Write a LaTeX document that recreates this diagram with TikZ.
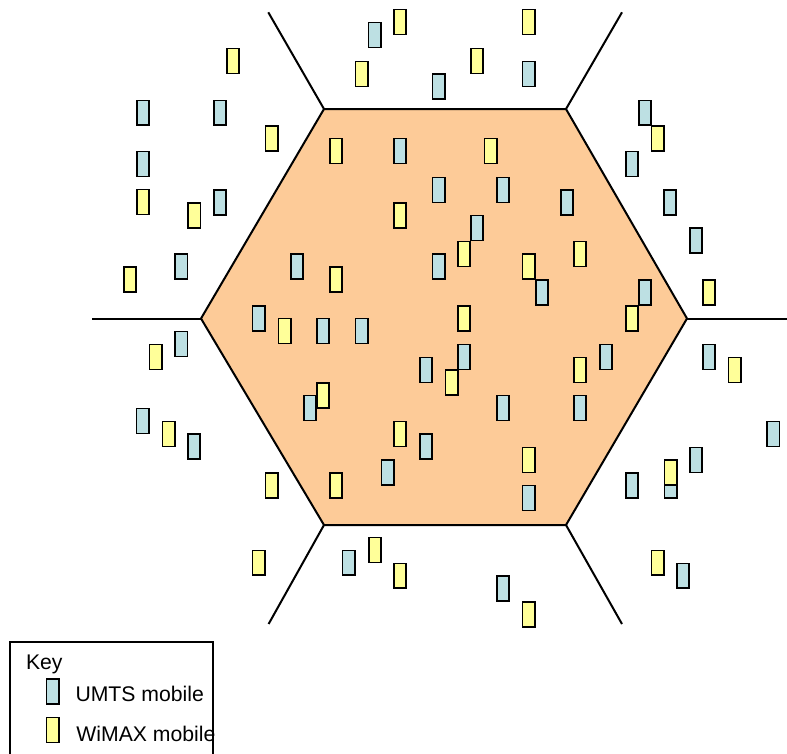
\documentclass[tikz,border=0pt]{standalone}
\usepackage{fontspec}
\setmainfont{Liberation Sans}
\definecolor{hexfill}{RGB}{253,203,152}
\definecolor{umtsfill}{RGB}{189,224,227}
\definecolor{wimaxfill}{RGB}{255,255,153}
\begin{document}
\begin{tikzpicture}[x=1pt,y=-1pt,
  mob/.style={draw=black,line width=1.7pt,minimum width=12.3pt,minimum height=24.8pt,inner sep=0pt,outer sep=0pt},
  umts/.style={mob,fill=umtsfill},
  wimax/.style={mob,fill=wimaxfill},
  cellline/.style={draw=black,line width=2pt,line join=miter},
  keytext/.style={anchor=base west,inner sep=0pt,font=\fontsize{21.2}{25}\selectfont}]
\useasboundingbox (0,0) rectangle (787,753);
% cell
\coordinate (h1) at (324,109);
\coordinate (h2) at (566,109);
\coordinate (h3) at (687,318.5);
\coordinate (h4) at (566,525);
\coordinate (h5) at (324,525);
\coordinate (h6) at (201,318.5);
\coordinate (o1) at (268.3,12.3);
\coordinate (o2) at (622,12.3);
\coordinate (o3) at (787,318.5);
\coordinate (o4) at (622,624);
\coordinate (o5) at (268.6,624);
\coordinate (o6) at (91.7,318.5);
\fill[hexfill] (h1) -- (h2) -- (h3) -- (h4) -- (h5) -- (h6) -- cycle;
\draw[cellline] (h1) -- (h2) -- (h3) -- (h4) -- (h5) -- (h6) -- cycle;
\draw[cellline] (h1) -- (o1);
\draw[cellline] (h2) -- (o2);
\draw[cellline] (h3) -- (o3);
\draw[cellline] (h4) -- (o4);
\draw[cellline] (h5) -- (o5);
\draw[cellline] (h6) -- (o6);
% UMTS mobiles
\foreach \x/\y [count=\i] in {374.5/35, 528.7/74, 438.7/86.5, 143/112.8, 220/112.8, 645/112.8,
  400/151, 143/164, 632/164, 438.7/190, 503/190, 567/202.5, 670/202.5, 220/202.5,
  477/228, 696/240.5, 181.3/266.5, 297/266.5, 438.7/266.7, 541.8/292.5, 645/292.5,
  258.5/318.5, 323/331, 361.5/331, 181.3/344, 464/357, 606/357, 709/357, 426/370,
  310/408, 503/408, 580/408, 142.5/421, 194/446.7, 426/446.7, 773.3/434, 696/460,
  387.5/472.7, 632/485.5, 670.5/485.5, 528.7/498, 348.6/562.8, 683/575.8, 503/588.5}
  \node[umts] (u\i) at (\x,\y) {};
% WiMAX mobiles
\foreach \x/\y [count=\i] in {400/22, 528.7/22, 233/61, 477/61, 361.5/74, 271.5/138.5,
  657.5/138.5, 336/151, 490.5/151, 143/202, 194.3/215.3, 400/215.3, 464/254, 580/254,
  528.7/266.7, 130/279.5, 336/279.5, 709/292.5, 464/318.5, 632/318.5, 284.5/331,
  155.5/357, 580/370, 734.7/370, 451.5/382.5, 323/395.5, 168.5/434, 400/434,
  528.7/460, 670.5/472.5, 271.5/485.5, 336/485.5, 375/550, 258.7/562.8, 657.5/562.8,
  400/575.8, 528.7/614.5}
  \node[wimax] (w\i) at (\x,\y) {};
% key
\draw[line width=1.2pt] (10,642) rectangle (213,770);
\node[keytext] (keylabel) at (25.8,669.3) {Key};
\node[umts] (keyumts) at (52.5,691.5) {};
\node[wimax] (keywimax) at (52.5,730) {};
\node[keytext] (umtslabel) at (75.3,701.7) {UMTS mobile};
\node[keytext] (wimaxlabel) at (76.2,741.7) {WiMAX mobile};
\end{tikzpicture}
\end{document}
